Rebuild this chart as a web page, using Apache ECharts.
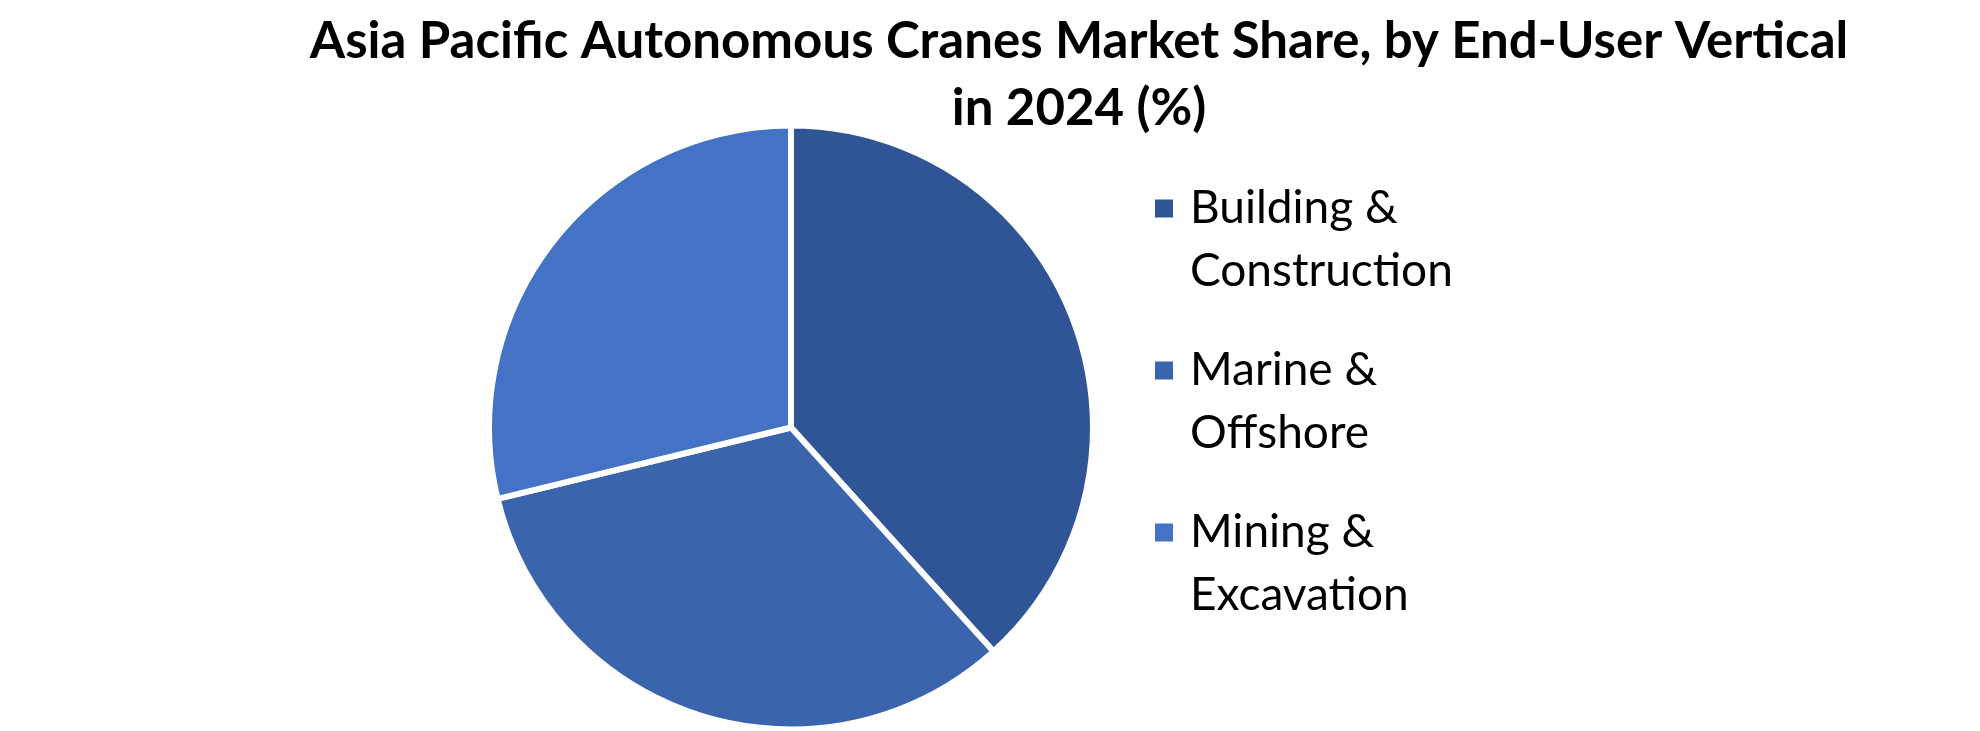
<!DOCTYPE html>
<html>
<head>
<meta charset="utf-8">
<script src="https://cdn.jsdelivr.net/npm/echarts@6/dist/echarts.min.js"></script>
<style>
html,body{margin:0;padding:0;background:#fff;}
#chart{width:1980px;height:731px;}
</style>
</head>
<body>
<div id="chart"></div>
<script>
var titleLines = ['Asia Pacific Autonomous Cranes Market Share, by End-User Vertical', 'in 2024 (%)'];
var categories = ['Building & Construction', 'Marine & Offshore', 'Mining & Excavation'];
var legendLabels = ['Building &\nConstruction', 'Marine &\nOffshore', 'Mining &\nExcavation'];
var shares = [38.3, 32.9, 28.8];
var colors = ['#2F5597', '#3A64AB', '#4472C4'];

var chart = echarts.init(document.getElementById('chart'), null, {renderer: 'canvas'});
var data = categories.map(function (c, i) {
  return {name: c, value: shares[i], itemStyle: {color: colors[i]}};
});
chart.setOption({
  animation: false,
  backgroundColor: '#ffffff',
  title: {
    text: titleLines.join('\n'),
    left: 1079,
    textAlign: 'center',
    top: 8,
    padding: 0,
    textStyle: {
      fontFamily: 'Lato',
      fontWeight: 'bold',
      fontSize: 51,
      lineHeight: 67,
      color: '#000000'
    }
  },
  legend: {
    orient: 'vertical',
    left: 1153,
    top: 114,
    padding: 0,
    itemWidth: 20,
    itemHeight: 20,
    itemGap: -27,
    icon: 'rect',
    selectedMode: false,
    data: categories,
    formatter: function (name) {
      return '\n' + legendLabels[categories.indexOf(name)];
    },
    textStyle: {
      fontFamily: 'Lato',
      fontSize: 46,
      lineHeight: 63,
      color: '#000000',
      padding: [0, 0, 0, 11]
    }
  },
  series: [{
    type: 'pie',
    center: [791, 427.5],
    radius: 302,
    startAngle: 90,
    clockwise: true,
    label: {show: false},
    labelLine: {show: false},
    emphasis: {disabled: true},
    itemStyle: {borderColor: '#ffffff', borderWidth: 6},
    data: data
  }]
});
</script>
</body>
</html>
